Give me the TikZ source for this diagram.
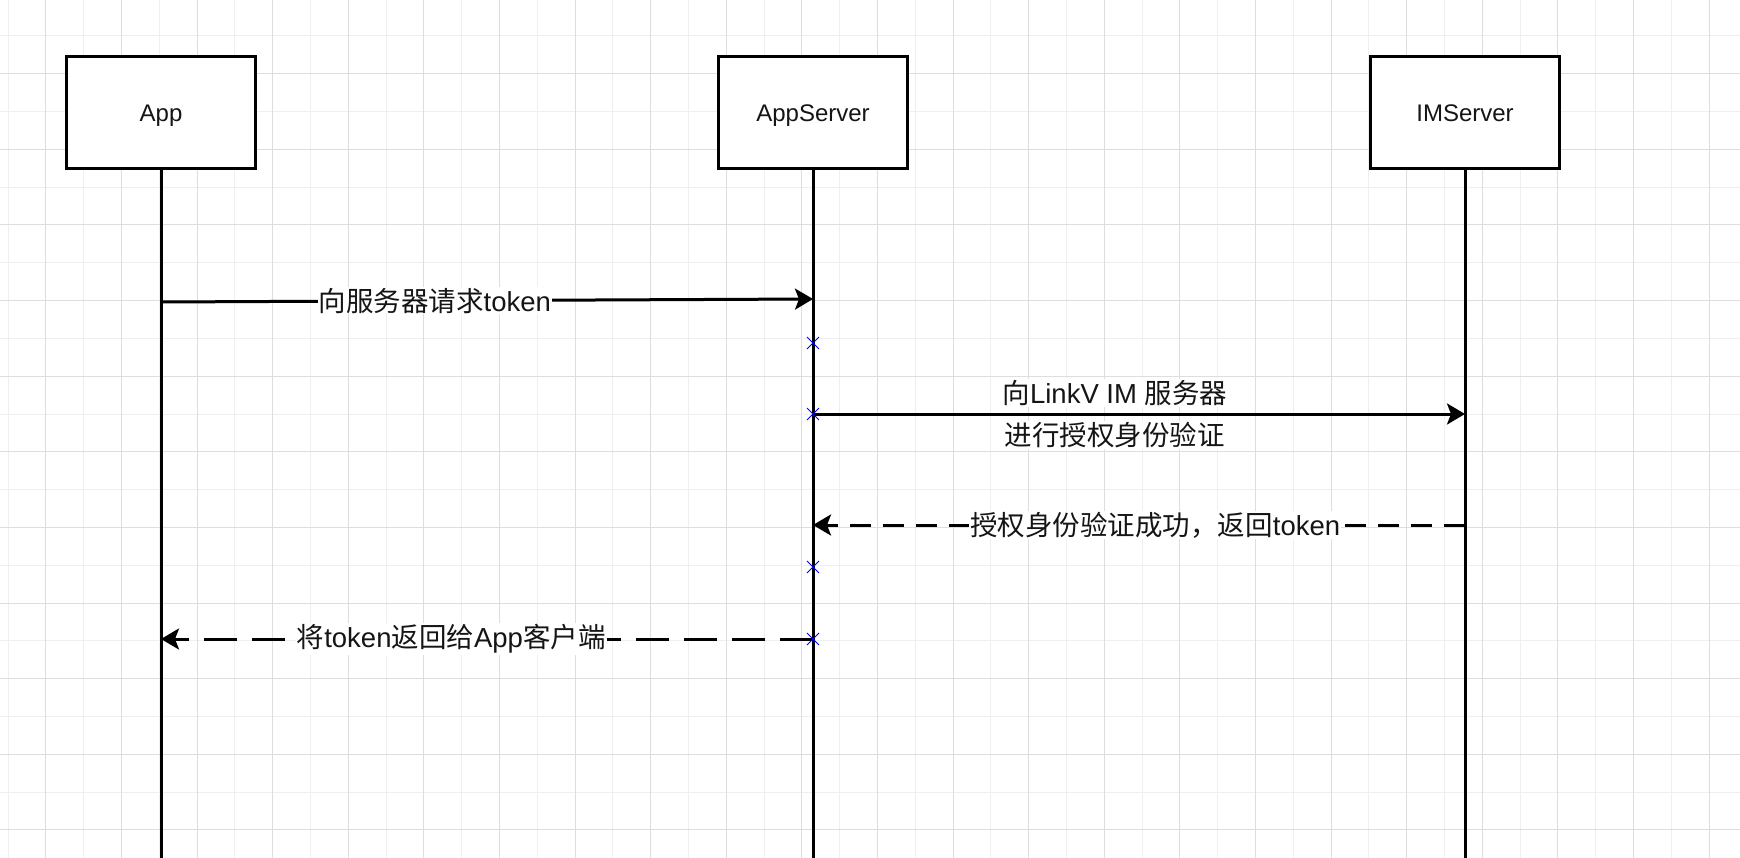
\documentclass[tikz,border=0pt]{standalone}
\usepackage{fontspec}
\setmainfont{Liberation Sans}
\newfontfamily\cjk{Noto Sans CJK SC}
\usetikzlibrary{arrows.meta,shapes.misc}
\definecolor{gridminor}{HTML}{EFEFEF}
\definecolor{gridmajor}{HTML}{DEDEDE}
\definecolor{txt}{HTML}{151515}
\tikzset{
  actor/.style={draw=black,line width=3pt,fill=white,minimum width=189pt,
    minimum height=112pt,inner sep=0pt,text height=18pt,text depth=0pt,
    text=txt,font=\fontsize{24}{28}\selectfont},
  lifeline/.style={line width=3pt},
  msg/.style={line width=3pt,-{Stealth[length=18pt,width=21pt,inset=4pt]}},
  lbl/.style={fill=white,text=txt,inner sep=1pt,font=\fontsize{27.5}{42}\selectfont},
  xpt/.style={cross out,draw=blue,line width=0.9pt,minimum size=11pt,inner sep=0pt},
}
\begin{document}
\begin{tikzpicture}[x=1pt,y=-1pt]
      \useasboundingbox[fill=white](0,0)rectangle(1740,858);
      % grid
      \foreach \i in {0,...,46}{
        \draw[gridminor,line width=1pt](8+37.8*\i,0)--(8+37.8*\i,858);
      }
      \foreach \i in {0,...,23}{
        \draw[gridminor,line width=1pt](0,-1.8+37.8*\i)--(1740,-1.8+37.8*\i);
      }
      \foreach \i in {0,...,22}{
        \draw[gridmajor,line width=1pt](45.8+75.6*\i,0)--(45.8+75.6*\i,858);
      }
      \foreach \i in {1,...,12}{
        \draw[gridmajor,line width=1pt](0,-77.4+75.6*\i)--(1740,-77.4+75.6*\i);
      }
      % actors
      \node[actor] (app) at (161,112.5) {App};
      \node[actor] (appserver) at (813,112.5) {AppServer};
      \node[actor] (imserver) at (1465,112.5) {IMServer};
      \coordinate (append) at (161,862);
      \coordinate (srvend) at (813,862);
      \coordinate (imend) at (1465,862);
      \draw[lifeline](app.south)--(append);
      \draw[lifeline](appserver.south)--(srvend);
      \draw[lifeline](imserver.south)--(imend);
      % message points
      \coordinate (a1) at (161,302);
      \coordinate (s1) at (813,299);
      \coordinate (s2) at (813,414);
      \coordinate (i2) at (1465,414);
      \coordinate (i3) at (1465,525);
      \coordinate (s3) at (813,525);
      \coordinate (s4) at (813,639);
      \coordinate (a4) at (161,639);
      % messages
      \draw[msg](a1)--node[lbl,pos=0.42]{{\cjk 向服务器请求}token}(s1);
      \draw[msg](s2)--
        node[lbl,pos=0.463,yshift=21pt]{{\cjk 向}LinkV IM {\cjk 服务器}}
        node[lbl,pos=0.463,yshift=-21pt]{\cjk 进行授权身份验证}(i2);
      \draw[msg,dash pattern=on 21pt off 12pt](i3)--
        node[lbl,pos=0.475]{{\cjk 授权身份验证成功，返回}token}(s3);
      \draw[msg,dash pattern=on 33pt off 15pt](s4)--
        node[lbl,pos=0.555]{{\cjk 将}token{\cjk 返回给}App{\cjk 客户端}}(a4);
      % activation marks
      \node[xpt] (x1) at (813,343) {};
      \node[xpt] (x2) at (s2) {};
      \node[xpt] (x3) at (813,567) {};
      \node[xpt] (x4) at (s4) {};
\end{tikzpicture}
\end{document}
